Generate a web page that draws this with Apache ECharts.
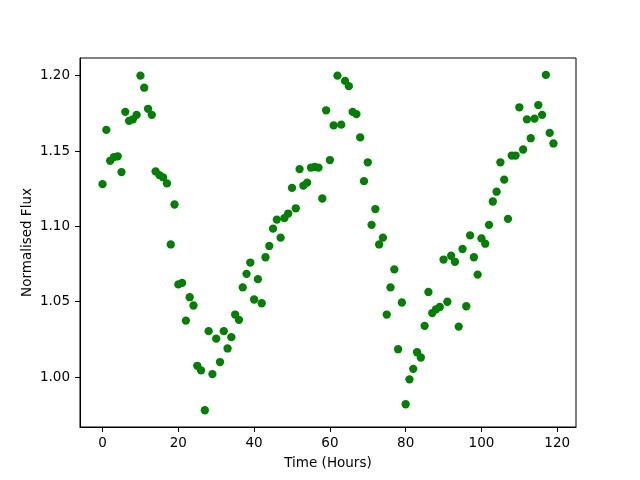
<!DOCTYPE html>
<html>
<head>
<meta charset="utf-8">
<script src="https://cdn.jsdelivr.net/npm/echarts@6/dist/echarts.min.js"></script>
<style>
  html, body { margin: 0; padding: 0; background: #fff; }
  #main { width: 640px; height: 480px; }
</style>
</head>
<body>
<div id="main"></div>
<script>
  // 横坐标：时间（小时）
  var hours = [
    0, 1, 2, 3, 4, 5, 6, 7, 8, 9, 10, 11, 12, 13, 14, 15, 16, 17, 18, 19,
    20, 21, 22, 23, 24, 25, 26, 27, 28, 29, 30, 31, 32, 33, 34, 35, 36, 37, 38, 39,
    40, 41, 42, 43, 44, 45, 46, 47, 48, 49, 50, 51, 52, 53, 54, 55, 56, 57, 58, 59,
    60, 61, 62, 63, 64, 65, 66, 67, 68, 69, 70, 71, 72, 73, 74, 75, 76, 77, 78, 79,
    80, 81, 82, 83, 84, 85, 86, 87, 88, 89, 90, 91, 92, 93, 94, 95, 96, 97, 98, 99,
    100, 101, 102, 103, 104, 105, 106, 107, 108, 109, 110, 111, 112, 113, 114, 115, 116, 117, 118, 119
  ];

  // 纵坐标：归一化通量
  var flux = [
    1.128, 1.164, 1.1435, 1.146, 1.1465, 1.136, 1.176, 1.170, 1.171, 1.174,
    1.200, 1.192, 1.178, 1.174, 1.1365, 1.134, 1.1325, 1.1285, 1.088, 1.1145,
    1.0615, 1.0625, 1.0375, 1.053, 1.0475, 1.0075, 1.0045, 0.978, 1.0305, 1.002,
    1.0255, 1.010, 1.0305, 1.019, 1.0265, 1.0415, 1.038, 1.0595, 1.0685, 1.076,
    1.0515, 1.065, 1.049, 1.0795, 1.087, 1.0985, 1.1045, 1.0925, 1.1055, 1.1085,
    1.1255, 1.112, 1.138, 1.127, 1.129, 1.139, 1.1395, 1.139, 1.1185, 1.177,
    1.144, 1.167, 1.200, 1.1675, 1.1965, 1.193, 1.176, 1.1745, 1.159, 1.130,
    1.1425, 1.101, 1.1115, 1.088, 1.0925, 1.0415, 1.0595, 1.0715, 1.0185, 1.0495,
    0.982, 0.9985, 1.0055, 1.0165, 1.013, 1.034, 1.0565, 1.0425, 1.045, 1.0465,
    1.078, 1.050, 1.0805, 1.0765, 1.0335, 1.085, 1.047, 1.094, 1.0795, 1.068,
    1.092, 1.0885, 1.101, 1.1165, 1.123, 1.1425, 1.131, 1.105, 1.147, 1.147,
    1.179, 1.151, 1.171, 1.1585, 1.1715, 1.1805, 1.174, 1.2005, 1.162, 1.155
  ];

  // 刻度
  var xTicks = [0, 20, 40, 60, 80, 100, 120];
  var yTicks = [1.00, 1.05, 1.10, 1.15, 1.20];

  var points = [];
  for (var i = 0; i < hours.length; i++) {
    points.push([hours[i], flux[i]]);
  }

  var font = 'DejaVu Sans';
  var myChart = echarts.init(document.getElementById('main'), null, { renderer: 'canvas' });

  var option = {
    animation: false,
    backgroundColor: '#fff',
    textStyle: { fontFamily: font },
    grid: {
      left: 80, right: 64, top: 58, bottom: 53,
      show: true, borderColor: '#000', borderWidth: 1, backgroundColor: 'transparent'
    },
    xAxis: {
      type: 'value',
      min: -5.95,
      max: 124.95,
      name: 'Time (Hours)',
      nameLocation: 'middle',
      nameGap: 29,
      nameMoveOverlap: false,
      nameTextStyle: { color: '#000', fontSize: 13.5, fontFamily: font },
      axisLine: { show: true, onZero: false, lineStyle: { color: '#000', width: 1 } },
      axisTick: { show: true, customValues: xTicks, length: 5, lineStyle: { color: '#000' } },
      axisLabel: {
        customValues: xTicks, color: '#000', fontSize: 13.5, fontFamily: font, margin: 9
      },
      splitLine: { show: false }
    },
    yAxis: {
      type: 'value',
      min: 0.9669,
      max: 1.2117,
      name: 'Normalised Flux',
      nameLocation: 'middle',
      nameGap: 46,
      nameMoveOverlap: false,
      nameTextStyle: { color: '#000', fontSize: 13.5, fontFamily: font },
      axisLine: { show: true, onZero: false, lineStyle: { color: '#000', width: 1 } },
      axisTick: { show: true, customValues: yTicks, length: 5, lineStyle: { color: '#000' } },
      axisLabel: {
        customValues: yTicks, color: '#000', fontSize: 13.5, fontFamily: font, margin: 10,
        formatter: function (v) { return v.toFixed(2); }
      },
      splitLine: { show: false }
    },
    series: [{
      type: 'scatter',
      data: points,
      symbol: 'circle',
      symbolSize: 8.3,
      itemStyle: { color: '#008000', opacity: 1 }
    }]
  };

  myChart.setOption(option);
</script>
</body>
</html>
